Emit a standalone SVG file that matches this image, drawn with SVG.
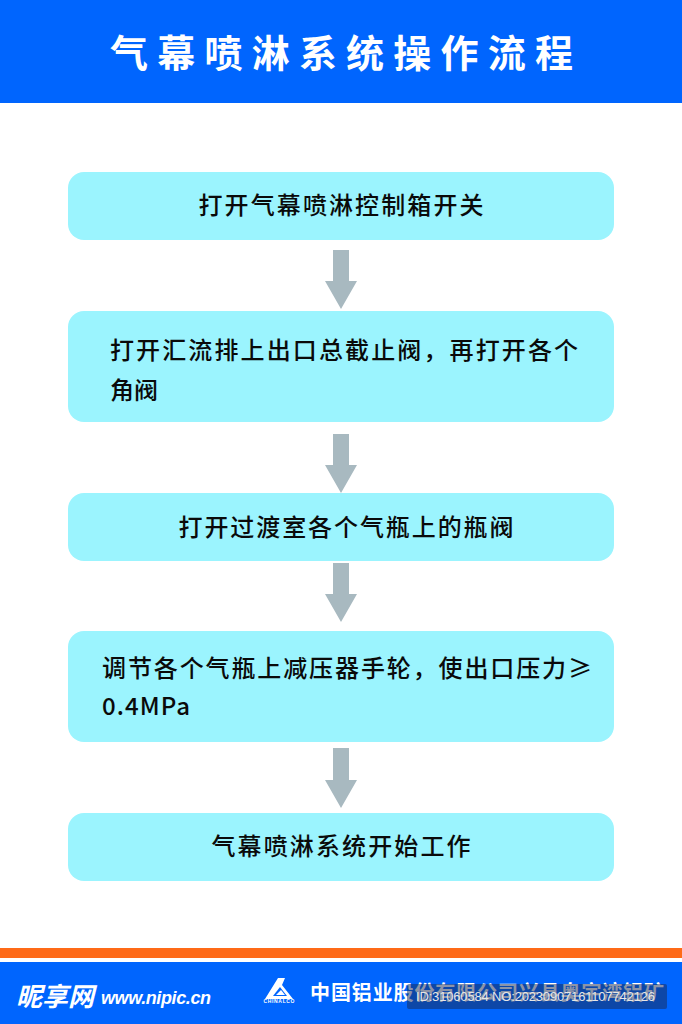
<svg xmlns="http://www.w3.org/2000/svg" width="682" height="1024" viewBox="0 0 682 1024">
<defs><style>
.n{fill:#9bf4fe}
.a{fill:#a8b9c0}
text{font-family:"Noto Sans CJK SC","Liberation Sans",sans-serif}
.t{font-size:24px;font-weight:500;fill:#0a0a0a}
.w{fill:#fff}
</style></defs>
<rect width="682" height="1024" fill="#fff"/>
<g id="header"><rect width="682" height="103" fill="#0065fe"/>
<text x="110" y="67" class="w" font-size="38" font-weight="700" textLength="463">气幕喷淋系统操作流程</text></g>
<g id="connectors">
<polygon class="a" points="333,250 349,250 349,281 357,281 341,309 325,281 333,281"/>
<polygon class="a" points="333,434 349,434 349,465 357,465 341,493 325,465 333,465"/>
<polygon class="a" points="333,563 349,563 349,594 357,594 341,622 325,594 333,594"/>
<polygon class="a" points="333,748 349,748 349,780 357,780 341,808 325,780 333,780"/>
</g>
<g id="node1"><rect class="n" x="68" y="172" width="546" height="68" rx="16"/><text class="t" x="341" y="214" text-anchor="middle" textLength="285">打开气幕喷淋控制箱开关</text></g>
<g id="node2"><rect class="n" x="68" y="311" width="546" height="111" rx="16"/><text class="t" x="110" y="359" textLength="468">打开汇流排上出口总截止阀，再打开各个</text><text class="t" x="110" y="399">角阀</text></g>
<g id="node3"><rect class="n" x="68" y="493" width="546" height="68" rx="16"/><text class="t" x="346" y="536" text-anchor="middle" textLength="335">打开过渡室各个气瓶上的瓶阀</text></g>
<g id="node4"><rect class="n" x="68" y="631" width="546" height="111" rx="16"/><text class="t" x="102" y="677" textLength="490">调节各个气瓶上减压器手轮，使出口压力≥</text><text class="t" x="102" y="715" textLength="88">0.4MPa</text></g>
<g id="node5"><rect class="n" x="68" y="813" width="546" height="68" rx="16"/><text class="t" x="341" y="855" text-anchor="middle" textLength="259">气幕喷淋系统开始工作</text></g>
<g id="footer">
<rect y="948" width="682" height="10" fill="#fe6a18"/>
<rect y="962" width="682" height="62" fill="#0065fe"/>
<text x="16" y="1006" class="w" font-size="26" font-weight="700" font-style="italic">昵享网</text>
<text x="101" y="1004" class="w" font-size="18" font-weight="700" font-style="italic" textLength="110" style="font-family:'Liberation Sans',sans-serif">www.nipic.cn</text>
<g id="logo"><polygon class="w" points="278,978 285,978 282,985 293,999 265,999"/><polygon points="273,996 280,987 287,996" fill="#0065fe"/><polygon class="w" points="276,995 281,990 285,995"/><text x="279" y="1003" text-anchor="middle" class="w" font-size="5" font-weight="700" textLength="31" style="font-family:'Liberation Sans',sans-serif">CHINALCO</text></g>
<text x="310" y="1000" class="w" font-size="20" font-weight="700" textLength="354">中国铝业股份有限公司兴县奥宇湾铝矿</text>
<rect x="407" y="984" width="260" height="25" rx="2" fill="#1a2a50" fill-opacity=".5"/>
<text x="416" y="1001" fill="#e6e6e6" font-size="13" textLength="239" style="font-family:'Liberation Sans',sans-serif">ID:31060584 NO:20230907161107742126</text>
</g>
</svg>
